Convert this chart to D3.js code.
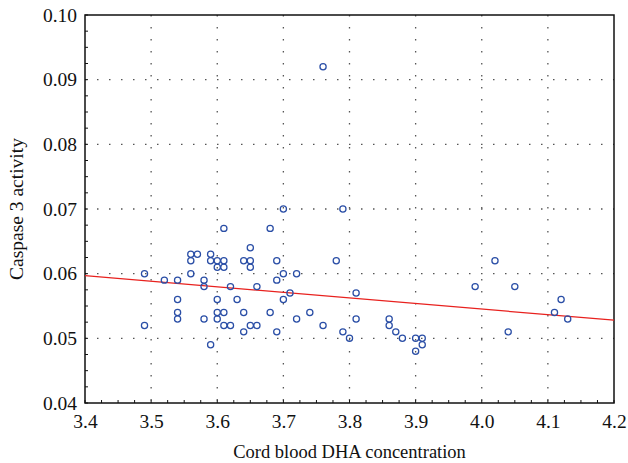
<!DOCTYPE html>
<html>
<head>
<meta charset="utf-8">
<script src="https://cdn.jsdelivr.net/npm/d3@7"></script>
<style>
  body { margin: 0; background: #fff; }
  svg text { font-family: "Liberation Serif", "DejaVu Serif", serif; fill: #111; }
</style>
</head>
<body>
<div id="chart"></div>
<script>
// cord blood DHA (x) vs caspase 3 activity (y)
const dha = [
  3.49, 3.49, 3.52, 3.54, 3.54, 3.54, 3.54, 3.56, 3.56, 3.56, 3.57,
  3.58, 3.58, 3.58, 3.59, 3.59, 3.59, 3.60, 3.60, 3.60, 3.60, 3.60,
  3.61, 3.61, 3.61, 3.61, 3.61, 3.62, 3.62, 3.63, 3.64, 3.64, 3.64,
  3.65, 3.65, 3.65, 3.65, 3.66, 3.66, 3.68, 3.68, 3.69, 3.69, 3.69,
  3.70, 3.70, 3.70, 3.71, 3.72, 3.72, 3.74, 3.76, 3.76, 3.78, 3.79,
  3.79, 3.80, 3.81, 3.81, 3.86, 3.86, 3.87, 3.88, 3.90, 3.90, 3.91,
  3.91, 3.99, 4.02, 4.04, 4.05, 4.11, 4.12, 4.13
];
const caspase = [
  0.060, 0.052, 0.059, 0.059, 0.056, 0.054, 0.053, 0.063, 0.062, 0.060, 0.063,
  0.059, 0.058, 0.053, 0.063, 0.062, 0.049, 0.062, 0.061, 0.056, 0.054, 0.053,
  0.067, 0.062, 0.061, 0.054, 0.052, 0.058, 0.052, 0.056, 0.062, 0.054, 0.051,
  0.064, 0.062, 0.061, 0.052, 0.058, 0.052, 0.067, 0.054, 0.062, 0.059, 0.051,
  0.070, 0.060, 0.056, 0.057, 0.060, 0.053, 0.054, 0.092, 0.052, 0.062, 0.070,
  0.051, 0.050, 0.057, 0.053, 0.053, 0.052, 0.051, 0.050, 0.050, 0.048, 0.050,
  0.049, 0.058, 0.062, 0.051, 0.058, 0.054, 0.056, 0.053
];
// fitted line end points
const fitX = [3.4, 4.2];
const fitY = [0.0597, 0.0528];

const xTicks = [3.4, 3.5, 3.6, 3.7, 3.8, 3.9, 4.0, 4.1, 4.2];
const yTicks = [0.04, 0.05, 0.06, 0.07, 0.08, 0.09, 0.10];

const W = 628, H = 463;
const margin = { top: 15, right: 14, bottom: 60, left: 85 };
const iw = W - margin.left - margin.right;
const ih = H - margin.top - margin.bottom;

const svg = d3.select('#chart').append('svg')
  .attr('width', W)
  .attr('height', H);

const g = svg.append('g').attr('transform', `translate(${margin.left},${margin.top})`);

const x = d3.scaleLinear().domain([3.4, 4.2]).range([0, iw]);
const y = d3.scaleLinear().domain([0.04, 0.10]).range([ih, 0]);

// dotted grid
g.append('g').selectAll('line').data(xTicks.slice(1, -1)).join('line')
  .attr('x1', d => x(d)).attr('x2', d => x(d))
  .attr('y1', 0).attr('y2', ih)
  .attr('stroke', '#555').attr('stroke-width', 1.3)
  .attr('stroke-dasharray', '1.5,10.5');
g.append('g').selectAll('line').data(yTicks.slice(1, -1)).join('line')
  .attr('x1', 0).attr('x2', iw)
  .attr('y1', d => y(d)).attr('y2', d => y(d))
  .attr('stroke', '#555').attr('stroke-width', 1.3)
  .attr('stroke-dasharray', '1.5,10.5');

// minor ticks, inward
const xMinor = d3.range(3.4, 4.2001, 0.025);
const yMinor = d3.range(0.04, 0.10001, 0.0025);
g.append('g').selectAll('line').data(xMinor).join('line')
  .attr('x1', d => x(d)).attr('x2', d => x(d))
  .attr('y1', ih).attr('y2', ih - 3)
  .attr('stroke', '#111').attr('stroke-width', 1);
g.append('g').selectAll('line').data(yMinor).join('line')
  .attr('x1', 0).attr('x2', 3)
  .attr('y1', d => y(d)).attr('y2', d => y(d))
  .attr('stroke', '#111').attr('stroke-width', 1);

// axes (labels only, frame drawn separately)
const xAxis = g.append('g').attr('transform', `translate(0,${ih})`)
  .call(d3.axisBottom(x).tickValues(xTicks).tickFormat(d3.format('.1f')).tickSize(0).tickPadding(7));
const yAxis = g.append('g')
  .call(d3.axisLeft(y).tickValues(yTicks).tickFormat(d3.format('.2f')).tickSize(0).tickPadding(8));
[xAxis, yAxis].forEach(a => {
  a.select('.domain').remove();
  a.selectAll('text').attr('font-size', 19.5).attr('font-family', '"Liberation Serif", serif').attr('fill', '#111');
});
xAxis.selectAll('text').attr('dy', '0.9em');

// frame
g.append('rect')
  .attr('x', 0).attr('y', 0).attr('width', iw).attr('height', ih)
  .attr('fill', 'none').attr('stroke', '#111').attr('stroke-width', 1.5);

// regression line
g.append('line')
  .attr('x1', x(fitX[0])).attr('y1', y(fitY[0]))
  .attr('x2', x(fitX[1])).attr('y2', y(fitY[1]))
  .attr('stroke', '#e8211e').attr('stroke-width', 1.3);

// points
g.append('g').selectAll('circle').data(dha).join('circle')
  .attr('cx', d => x(d))
  .attr('cy', (d, i) => y(caspase[i]))
  .attr('r', 3.1)
  .attr('fill', 'none')
  .attr('stroke', '#2a4ea6')
  .attr('stroke-width', 1.25);

// titles
svg.append('text')
  .attr('x', margin.left + iw / 2).attr('y', 458)
  .attr('text-anchor', 'middle').attr('font-size', 18.5)
  .text('Cord blood DHA concentration');
svg.append('text')
  .attr('transform', `translate(23,${margin.top + ih / 2}) rotate(-90)`)
  .attr('text-anchor', 'middle').attr('font-size', 19.5)
  .text('Caspase 3 activity');
</script>
</body>
</html>
